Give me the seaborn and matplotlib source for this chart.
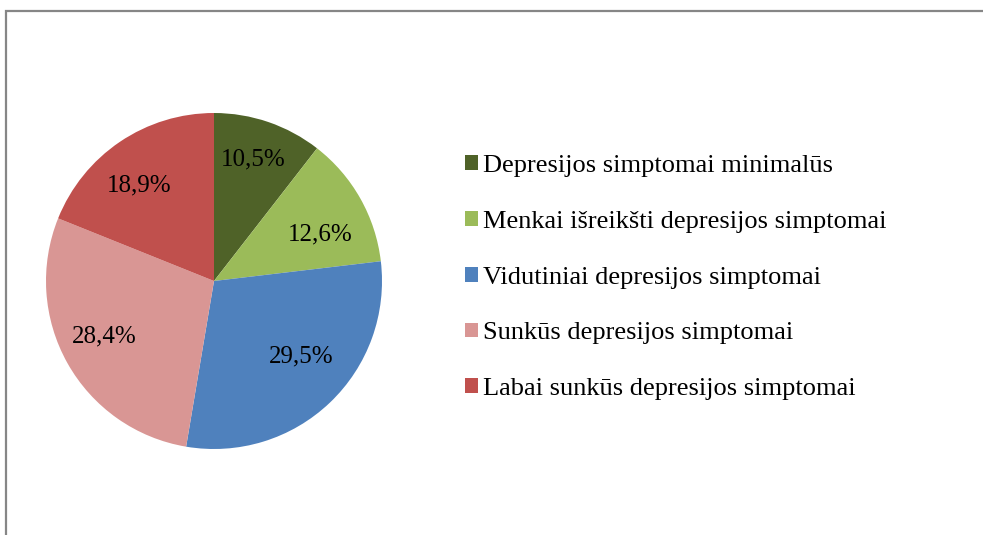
import matplotlib
matplotlib.use("Agg")
import matplotlib.pyplot as plt
import seaborn as sns
import numpy as np
from matplotlib.patches import Patch, Rectangle

categories = [
    "Depresijos simptomai minimalūs",
    "Menkai išreikšti depresijos simptomai",
    "Vidutiniai depresijos simptomai",
    "Sunkūs depresijos simptomai",
    "Labai sunkūs depresijos simptomai",
]
values = [10.5, 12.6, 29.5, 28.4, 18.9]
pct_labels = ["10,5%", "12,6%", "29,5%", "28,4%", "18,9%"]
colors = ["#4F6228", "#9BBB59", "#4F81BD", "#D99694", "#C0504D"]

sns.set_theme(style="white")
plt.rcParams["font.family"] = ["Liberation Serif", "DejaVu Serif"]
plt.rcParams["text.color"] = "black"

W, H = 983, 535
fig = plt.figure(figsize=(W / 100, H / 100), dpi=100)
fig.patch.set_facecolor("white")

# pie axes: centre (214, 281) px, radius 168 px
cx, cy, r = 214, 281, 168
ax = fig.add_axes([(cx - r) / W, (H - cy - r) / H, 2 * r / W, 2 * r / H])
palette = sns.color_palette(colors)
wedges, _ = ax.pie(values, colors=palette, startangle=90, counterclock=False,
                   wedgeprops=dict(linewidth=0, edgecolor="none"), radius=1)
ax.set_xlim(-1, 1)
ax.set_ylim(-1, 1)
ax.set_aspect("equal")
ax.axis("off")

# label placement (best-fit style): radial distance and small angular shift
dists = [0.76, 0.69, 0.69, 0.73, 0.72]
shifts = [1.0, -6.0, 5.5, -2.5, 4.0]
for w, lab, d, s in zip(wedges, pct_labels, dists, shifts):
    ang = np.deg2rad((w.theta1 + w.theta2) / 2 + s)
    ax.text(d * np.cos(ang), d * np.sin(ang), lab, ha="center", va="center",
            fontsize=18, color="black")

handles = [Patch(facecolor=c, edgecolor="none") for c in palette]
leg = fig.legend(handles, categories, loc="upper left",
                 bbox_to_anchor=(465 / W, 1 - 155 / H), frameon=False,
                 fontsize=19, handlelength=0.49, handleheight=0.49,
                 handletextpad=0.19, labelspacing=1.28, borderaxespad=0,
                 borderpad=0)
for t in leg.get_texts():
    t.set_color("black")

# outer border (left and top visible; right/bottom cropped)
fig.patches.append(Rectangle((6 / W, -0.2), 1.2, 1.2 - 11 / H,
                             transform=fig.transFigure, fill=False,
                             edgecolor="#868686", linewidth=1.6))

fig.savefig("out.png", dpi=100)
